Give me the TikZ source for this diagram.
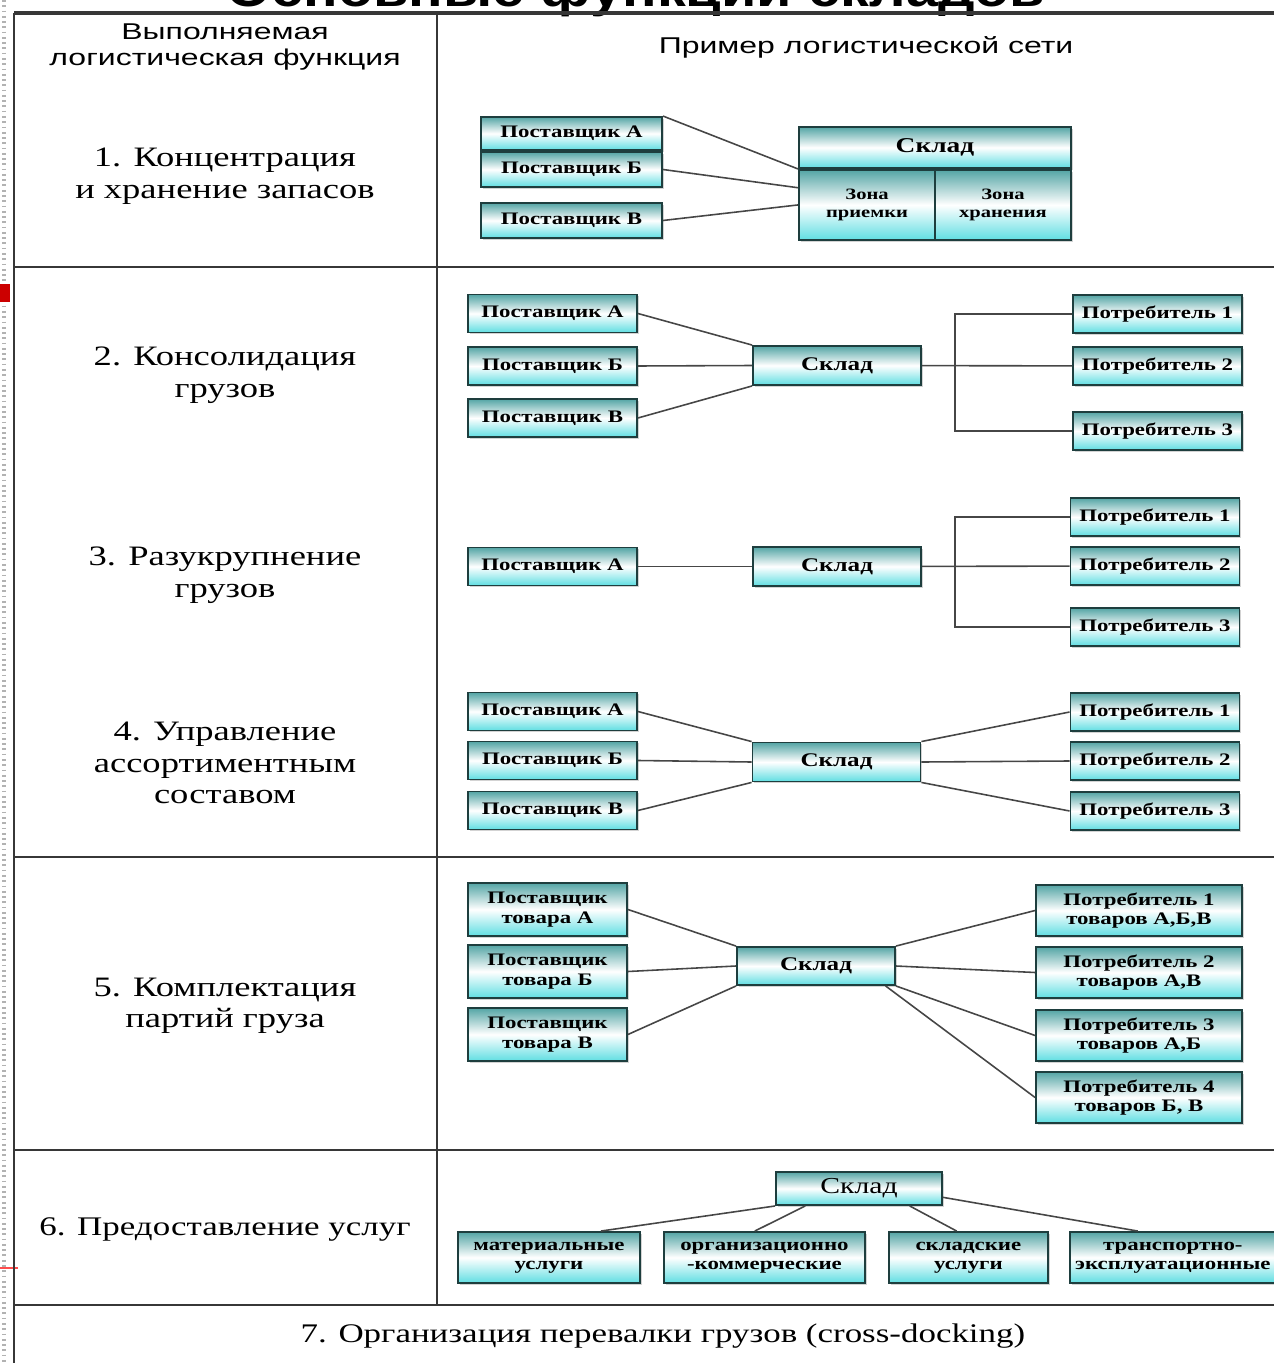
\documentclass[tikz,border=0pt]{standalone}
\usepackage{fontspec}
\setmainfont{Liberation Serif}[FakeStretch=1.3]
\newfontfamily\headfont{Liberation Sans}[FakeStretch=1.4]
\newfontfamily\titlefont{Liberation Sans}[FakeStretch=1.15]
\usetikzlibrary{positioning,shadows}

\definecolor{boxtop}{RGB}{84,165,165}
\definecolor{boxbot}{RGB}{96,222,226}
\definecolor{boxline}{RGB}{30,62,62}
\definecolor{rulecol}{RGB}{55,55,55}
\definecolor{wirecol}{RGB}{70,70,70}

\begin{document}
\begin{tikzpicture}[x=0.02cm,y=-0.02cm,on grid,
    netbox/.style={draw=boxline,line width=1.1pt,top color=boxtop,bottom color=boxbot,middle color=white,
      drop shadow={shadow xshift=1pt,shadow yshift=-1pt,opacity=.35},
      inner sep=1pt,align=center,font=\bfseries\fontsize{10}{11}\selectfont},
    supbox/.style={netbox,minimum width=3.38cm,minimum height=0.76cm},
    whbox/.style={netbox,minimum width=3.36cm,minimum height=0.78cm,font=\bfseries\fontsize{11}{12}\selectfont},
    func/.style={align=center,font=\fontsize{16}{18}\selectfont},
    wire/.style={draw=wirecol,line width=0.9pt}]
    \useasboundingbox (0,0) rectangle (1274,1363);
    % title, cut by the page edge
    \node[anchor=base,font=\titlefont\bfseries\fontsize{28.5}{30}\selectfont] (ttl) at (636,6) {Основные функции складов};
    % left margin marks
    \draw[gray!60,line width=2pt,dash pattern=on 1pt off 2pt] (4,0) -- (4,1363);
    \fill[red!80!black] (0,284) rectangle (10,302);
    \draw[red!70,line width=0.6pt] (0,1268) -- (18,1268);
    % table grid
    \draw[rulecol,line width=2pt] (14,13) -- (1274,13);
    \draw[rulecol,line width=1.2pt] (14,13) -- (14,1363);
    \draw[rulecol,line width=1.2pt] (437,13) -- (437,1305);
    \foreach \y in {267,857,1150,1305}
        \draw[rulecol,line width=1.2pt] (14,\y) -- (1274,\y);
    % headers and functions
    \node[align=center,font=\headfont\fontsize{13}{14.5}\selectfont] (h1) at (225,47) {Выполняемая\\логистическая функция};
    \node[font=\headfont\fontsize{13}{14.5}\selectfont] (h2) at (866,47) {Пример логистической сети};
    \node[func] (f1) at (225,176) {1. Концентрация\\и хранение запасов};
    \node[func] (f2) at (225,375) {2. Консолидация\\грузов};
    \node[func] (f3) at (225,575) {3. Разукрупнение\\грузов};
    \node[func] (f4) at (225,763) {4. Управление\\ассортиментным\\составом};
    \node[func] (f5) at (225,1006) {5. Комплектация\\партий груза};
    \node[func,font=\fontsize{15.3}{17}\selectfont] (f6) at (225,1229) {6. Предоставление услуг};
    \node[func,font=\fontsize{15.3}{17}\selectfont] (f7) at (663,1336) {7. Организация перевалки грузов (cross-docking)};

    % 1. concentration
    \node[netbox,minimum width=3.62cm,minimum height=0.66cm] (s1a) at (571.5,133.5) {Поставщик А};
    \node[netbox,minimum width=3.62cm,minimum height=0.7cm,below=0.72cm of s1a] (s1b) {Поставщик Б};
    \node[netbox,minimum width=3.62cm,minimum height=0.7cm,below=1.02cm of s1b] (s1c) {Поставщик В};
    \node[netbox,minimum width=5.44cm,minimum height=0.82cm,font=\bfseries\fontsize{12}{13}\selectfont] (sk1) at (935,147.5) {Склад};
    \node[netbox,minimum width=2.72cm,minimum height=1.4cm,anchor=north west,font=\bfseries\fontsize{9}{10}\selectfont] (zp) at (sk1.south west) {Зона\\приемки};
    \node[netbox,minimum width=2.72cm,minimum height=1.4cm,anchor=north east,font=\bfseries\fontsize{9}{10}\selectfont] (zx) at (sk1.south east) {Зона\\хранения};
    \draw[wire] (s1a.north east) -- (zp.north west);
    \draw[wire] (s1b.east) -- (zp.166);
    \draw[wire] (s1c.east) -- (zp.west);

    % 2. consolidation
    \node[supbox] (s2a) at (552.5,313.5) {Поставщик А};
    \node[supbox,below=1.05cm of s2a] (s2b) {Поставщик Б};
    \node[supbox,below=1.04cm of s2b] (s2c) {Поставщик В};
    \node[whbox] (sk2) at (837,365.5) {Склад};
    \node[supbox] (p2a) at (1157.5,314) {Потребитель 1};
    \node[supbox,below=1.04cm of p2a] (p2b) {Потребитель 2};
    \node[supbox,below=1.3cm of p2b] (p2c) {Потребитель 3};
    \coordinate (j2) at (955,366);
    \draw[wire] (s2a.east) -- (sk2.north west);
    \draw[wire] (s2b.east) -- (sk2.west);
    \draw[wire] (s2c.east) -- (sk2.south west);
    \draw[wire] (sk2) -- (p2b);
    \draw[wire] (p2a.west) -- (p2a.west -| j2) -- (p2c.west -| j2) -- (p2c.west);

    % 3. breaking bulk
    \node[supbox] (s3) at (552.5,566.5) {Поставщик А};
    \node[whbox] (sk3) at (837,566.5) {Склад};
    \node[supbox] (p3b) at (1155,566) {Потребитель 2};
    \node[supbox,above=0.98cm of p3b] (p3a) {Потребитель 1};
    \node[supbox,below=1.22cm of p3b] (p3c) {Потребитель 3};
    \coordinate (j3) at (955,566);
    \draw[wire] (s3) -- (sk3);
    \draw[wire] (sk3) -- (p3b);
    \draw[wire] (p3a.west) -- (p3a.west -| j3) -- (p3c.west -| j3) -- (p3c.west);

    % 4. assortment
    \node[supbox] (s4a) at (552.5,711.5) {Поставщик А};
    \node[supbox,below=0.98cm of s4a] (s4b) {Поставщик Б};
    \node[supbox,below=1.0cm of s4b] (s4c) {Поставщик В};
    \node[whbox] (sk4) at (836.5,762) {Склад};
    \node[supbox] (p4a) at (1155,712) {Потребитель 1};
    \node[supbox,below=0.98cm of p4a] (p4b) {Потребитель 2};
    \node[supbox,below=1.0cm of p4b] (p4c) {Потребитель 3};
    \draw[wire] (s4a.east) -- (sk4.north west);
    \draw[wire] (s4b.east) -- (sk4.west);
    \draw[wire] (s4c.east) -- (sk4.south west);
    \draw[wire] (sk4.north east) -- (p4a.west);
    \draw[wire] (sk4.east) -- (p4b.west);
    \draw[wire] (sk4.south east) -- (p4c.west);

    % 5. picking
    \node[netbox,minimum width=3.18cm,minimum height=1.06cm] (s5a) at (547.5,909.5) {Поставщик\\товара А};
    \node[netbox,minimum width=3.18cm,minimum height=1.06cm,below=1.24cm of s5a] (s5b) {Поставщик\\товара Б};
    \node[netbox,minimum width=3.18cm,minimum height=1.06cm,below=1.26cm of s5b] (s5c) {Поставщик\\товара В};
    \node[whbox,minimum width=3.16cm,minimum height=0.76cm] (sk5) at (816,966) {Склад};
    \node[netbox,minimum width=4.12cm,minimum height=1.02cm] (p5a) at (1139,910.5) {Потребитель 1\\товаров А,Б,В};
    \node[netbox,minimum width=4.12cm,minimum height=1.02cm,below=1.24cm of p5a] (p5b) {Потребитель 2\\товаров А,В};
    \node[netbox,minimum width=4.12cm,minimum height=1.02cm,below=1.26cm of p5b] (p5c) {Потребитель 3\\товаров А,Б};
    \node[netbox,minimum width=4.12cm,minimum height=1.02cm,below=1.24cm of p5c] (p5d) {Потребитель 4\\товаров Б, В};
    \draw[wire] (s5a.east) -- (sk5.north west);
    \draw[wire] (s5b.east) -- (sk5.west);
    \draw[wire] (s5c.east) -- (sk5.south west);
    \draw[wire] (sk5.north east) -- (p5a.west);
    \draw[wire] (sk5.east) -- (p5b.west);
    \draw[wire] (sk5.south east) -- (p5c.west);
    \draw[wire] (sk5.-16.5) -- (p5d.west);

    % 6. services
    \node[netbox,minimum width=3.32cm,minimum height=0.66cm,font=\fontsize{13}{14}\selectfont] (sk6) at (859,1188.5) {Склад};
    \node[netbox,minimum width=3.64cm,minimum height=1.02cm] (u1) at (549,1257.5) {материальные\\услуги};
    \node[netbox,minimum width=4.02cm,minimum height=1.02cm,right=4.31cm of u1] (u2) {организационно\\-коммерческие};
    \node[netbox,minimum width=3.18cm,minimum height=1.02cm,right=4.08cm of u2] (u3) {складские\\услуги};
    \node[netbox,minimum width=4.12cm,minimum height=1.02cm,right=4.09cm of u3] (u4) {транспортно-\\эксплуатационные};
    \draw[wire] (sk6.south west) -- (u1.27);
    \draw[wire] (sk6.198.6) -- (u2.110);
    \draw[wire] (sk6.-19.7) -- (u3.114);
    \draw[wire] (sk6.-6) -- (u4.143);
\end{tikzpicture}
\end{document}
